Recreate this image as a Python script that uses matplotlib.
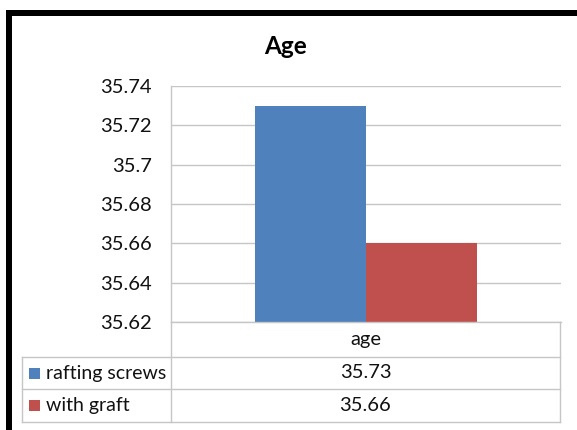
import matplotlib
matplotlib.use("Agg")
from matplotlib import pyplot as plt
from matplotlib.patches import Rectangle

# chart data
title = "Age"
categories = ["age"]
series_names = ["rafting screws", "with graft"]
series_values = [35.73, 35.66]
series_colors = ["#4F81BD", "#C0504D"]
y_ticks = [35.62, 35.64, 35.66, 35.68, 35.70, 35.72, 35.74]

W, H = 577, 430
FONT = "Lato"
GRID = "#C6C6C6"
TXT = "#111111"

plt.rcParams["font.family"] = [FONT, "DejaVu Sans"]

fig = plt.figure(figsize=(W / 100, H / 100), dpi=100)

# pixel overlay for frame and table
over = fig.add_axes([0, 0, 1, 1], zorder=0)
over.set_xlim(0, W)
over.set_ylim(H, 0)
over.axis("off")

# plot area (px)
left, right, top, bottom = 171, 561, 86, 322
ax = fig.add_axes(
    [left / W, 1 - bottom / H, (right - left) / W, (bottom - top) / H], zorder=1
)
ax.patch.set_alpha(0)

bar_w = 0.285
for i, (name, val, col) in enumerate(zip(series_names, series_values, series_colors)):
    offset = (i - (len(series_values) - 1) / 2) * bar_w
    ax.bar(0 + offset, val - y_ticks[0], bottom=y_ticks[0], width=bar_w,
           color=col, zorder=2)

ax.set_xlim(-0.5, 0.5)
ax.set_ylim(y_ticks[0], y_ticks[-1])
ax.set_yticks(y_ticks)
ax.set_yticklabels([f"{t:g}" for t in y_ticks])
ax.set_xticks([])
ax.yaxis.grid(True, color=GRID, linewidth=1)
ax.set_axisbelow(True)
ax.tick_params(axis="y", length=0, pad=14, labelsize=14.5, colors=TXT)
for s in ["top", "right"]:
    ax.spines[s].set_visible(False)
for s in ["left", "bottom"]:
    ax.spines[s].set_color(GRID)
    ax.spines[s].set_linewidth(1)

# black frame (top and left edges of the cropped chart box)
over.add_patch(Rectangle((6, 10), 6, H - 10, color="black", lw=0))
over.add_patch(Rectangle((6, 10), W - 6, 6, color="black", lw=0))

# title
fig.text(286 / W, 1 - 47 / H, title, ha="center", va="center",
         fontsize=17.5, fontweight="bold", color="black")

# data table
tab_left, col_x, tab_right = 22, 171, 560
header_top, row_tops = 322, [357, 389]
tab_bottom = 422
lk = dict(color=GRID, lw=1, zorder=1)
over.plot([col_x, col_x], [bottom, tab_bottom], **lk)
over.plot([tab_right, tab_right], [header_top, tab_bottom], **lk)
over.plot([tab_left, tab_left], [row_tops[0], tab_bottom], **lk)
for yy in row_tops + [tab_bottom]:
    over.plot([tab_left, tab_right], [yy, yy], **lk)

col_center = (col_x + tab_right) / 2
over.text(col_center, (header_top + row_tops[0]) / 2, categories[0],
          ha="center", va="center", fontsize=14.5, color=TXT)
row_bounds = row_tops + [tab_bottom]
for i, (name, val, col) in enumerate(zip(series_names, series_values, series_colors)):
    yc = (row_bounds[i] + row_bounds[i + 1]) / 2
    over.add_patch(Rectangle((29, yc - 5.5), 11, 11, color=col, lw=0))
    over.text(46, yc, name, ha="left", va="center", fontsize=14, color=TXT)
    over.text(col_center, yc, f"{val:.2f}", ha="center", va="center",
              fontsize=14.5, color=TXT)

fig.savefig("out.png", dpi=100)
